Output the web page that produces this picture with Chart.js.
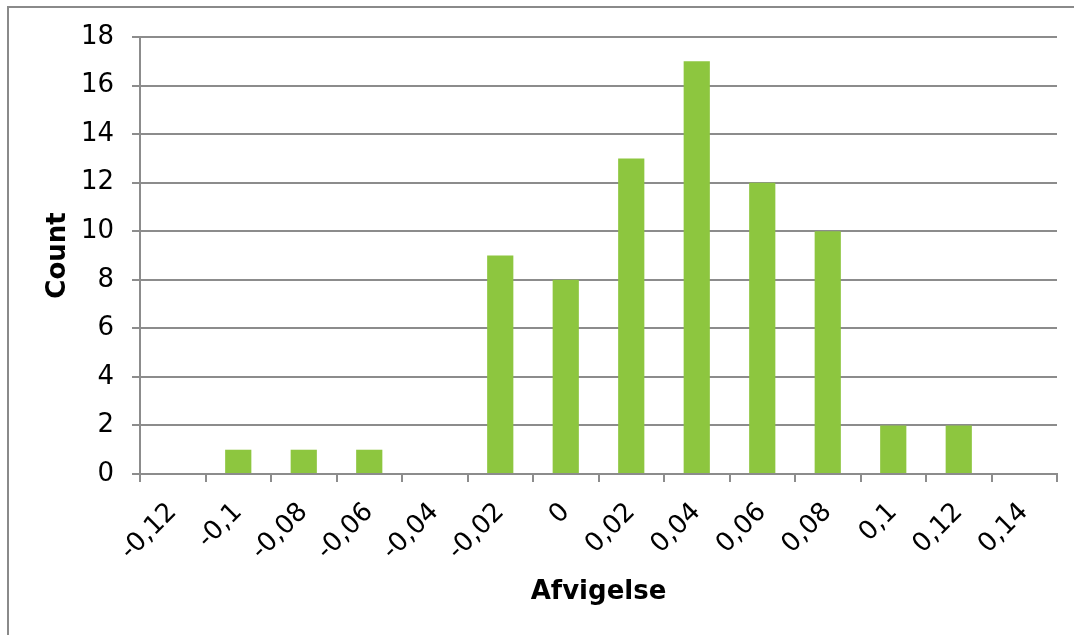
<!DOCTYPE html>
<html>
<head>
<meta charset="utf-8">
<script src="https://cdn.jsdelivr.net/npm/chart.js@4/dist/chart.umd.min.js"></script>
<style>
  body { margin: 0; background: #fff; }
  #wrap { position: relative; width: 1074px; height: 635px; }
  #frame { position: absolute; left: 7px; top: 6px; width: 1100px; height: 700px;
           border-left: 2px solid #8a8a8a; border-top: 2px solid #8a8a8a; }
  canvas { position: absolute; left: 0; top: 0; }
</style>
</head>
<body>
<div id="wrap">
  <div id="frame"></div>
  <canvas id="myChart" width="1074" height="635"></canvas>
</div>
<script>
// bins (Afvigelse) og antal
var labels = ['-0,12', '-0,1', '-0,08', '-0,06', '-0,04', '-0,02', '0', '0,02', '0,04', '0,06', '0,08', '0,1', '0,12', '0,14'];
var counts = [0, 1, 1, 1, 0, 9, 8, 13, 17, 12, 10, 2, 2, 0];

var gridColor = '#8c8c8c';

const data = {
    labels: labels,
    datasets: [{
        label: 'Count',
        backgroundColor: '#8dc63f',
        borderWidth: 0,
        barPercentage: 0.4,
        categoryPercentage: 1.0,
        data: counts,
    }]
};

const config = {
    type: 'bar',
    data: data,
    options: {
        responsive: false,
        animation: false,
        layout: {
            padding: { top: 37, right: 17, bottom: 0, left: 0 }
        },
        plugins: {
            legend: { display: false },
            tooltip: { enabled: false }
        },
        scales: {
            x: {
                offset: true,
                grid: {
                    offset: true,
                    drawOnChartArea: false,
                    drawTicks: true,
                    tickLength: 8,
                    color: gridColor,
                    lineWidth: 2
                },
                border: { color: gridColor, width: 2 },
                ticks: {
                    minRotation: 45,
                    maxRotation: 45,
                    autoSkip: false,
                    padding: 15,
                    color: '#000',
                    font: { family: 'DejaVu Sans', size: 26 }
                },
                title: {
                    display: true,
                    text: 'Afvigelse',
                    color: '#000',
                    font: { family: 'DejaVu Sans', size: 26, weight: 'bold' },
                    padding: { top: 0, bottom: 27 }
                },
                afterFit: function (scale) { scale.height = 161; }
            },
            y: {
                min: 0,
                max: 18,
                grid: {
                    color: gridColor,
                    lineWidth: 2,
                    tickLength: 8
                },
                border: { color: gridColor, width: 2 },
                ticks: {
                    stepSize: 2,
                    padding: 18,
                    color: '#000',
                    font: { family: 'DejaVu Sans', size: 26 }
                },
                title: {
                    display: true,
                    text: 'Count',
                    color: '#000',
                    font: { family: 'DejaVu Sans', size: 26, weight: 'bold' },
                    padding: { top: 43, bottom: 0 }
                },
                afterFit: function (scale) { scale.width = 140; }
            }
        }
    }
};

const myChart = new Chart(document.getElementById('myChart'), config);
</script>
</body>
</html>
